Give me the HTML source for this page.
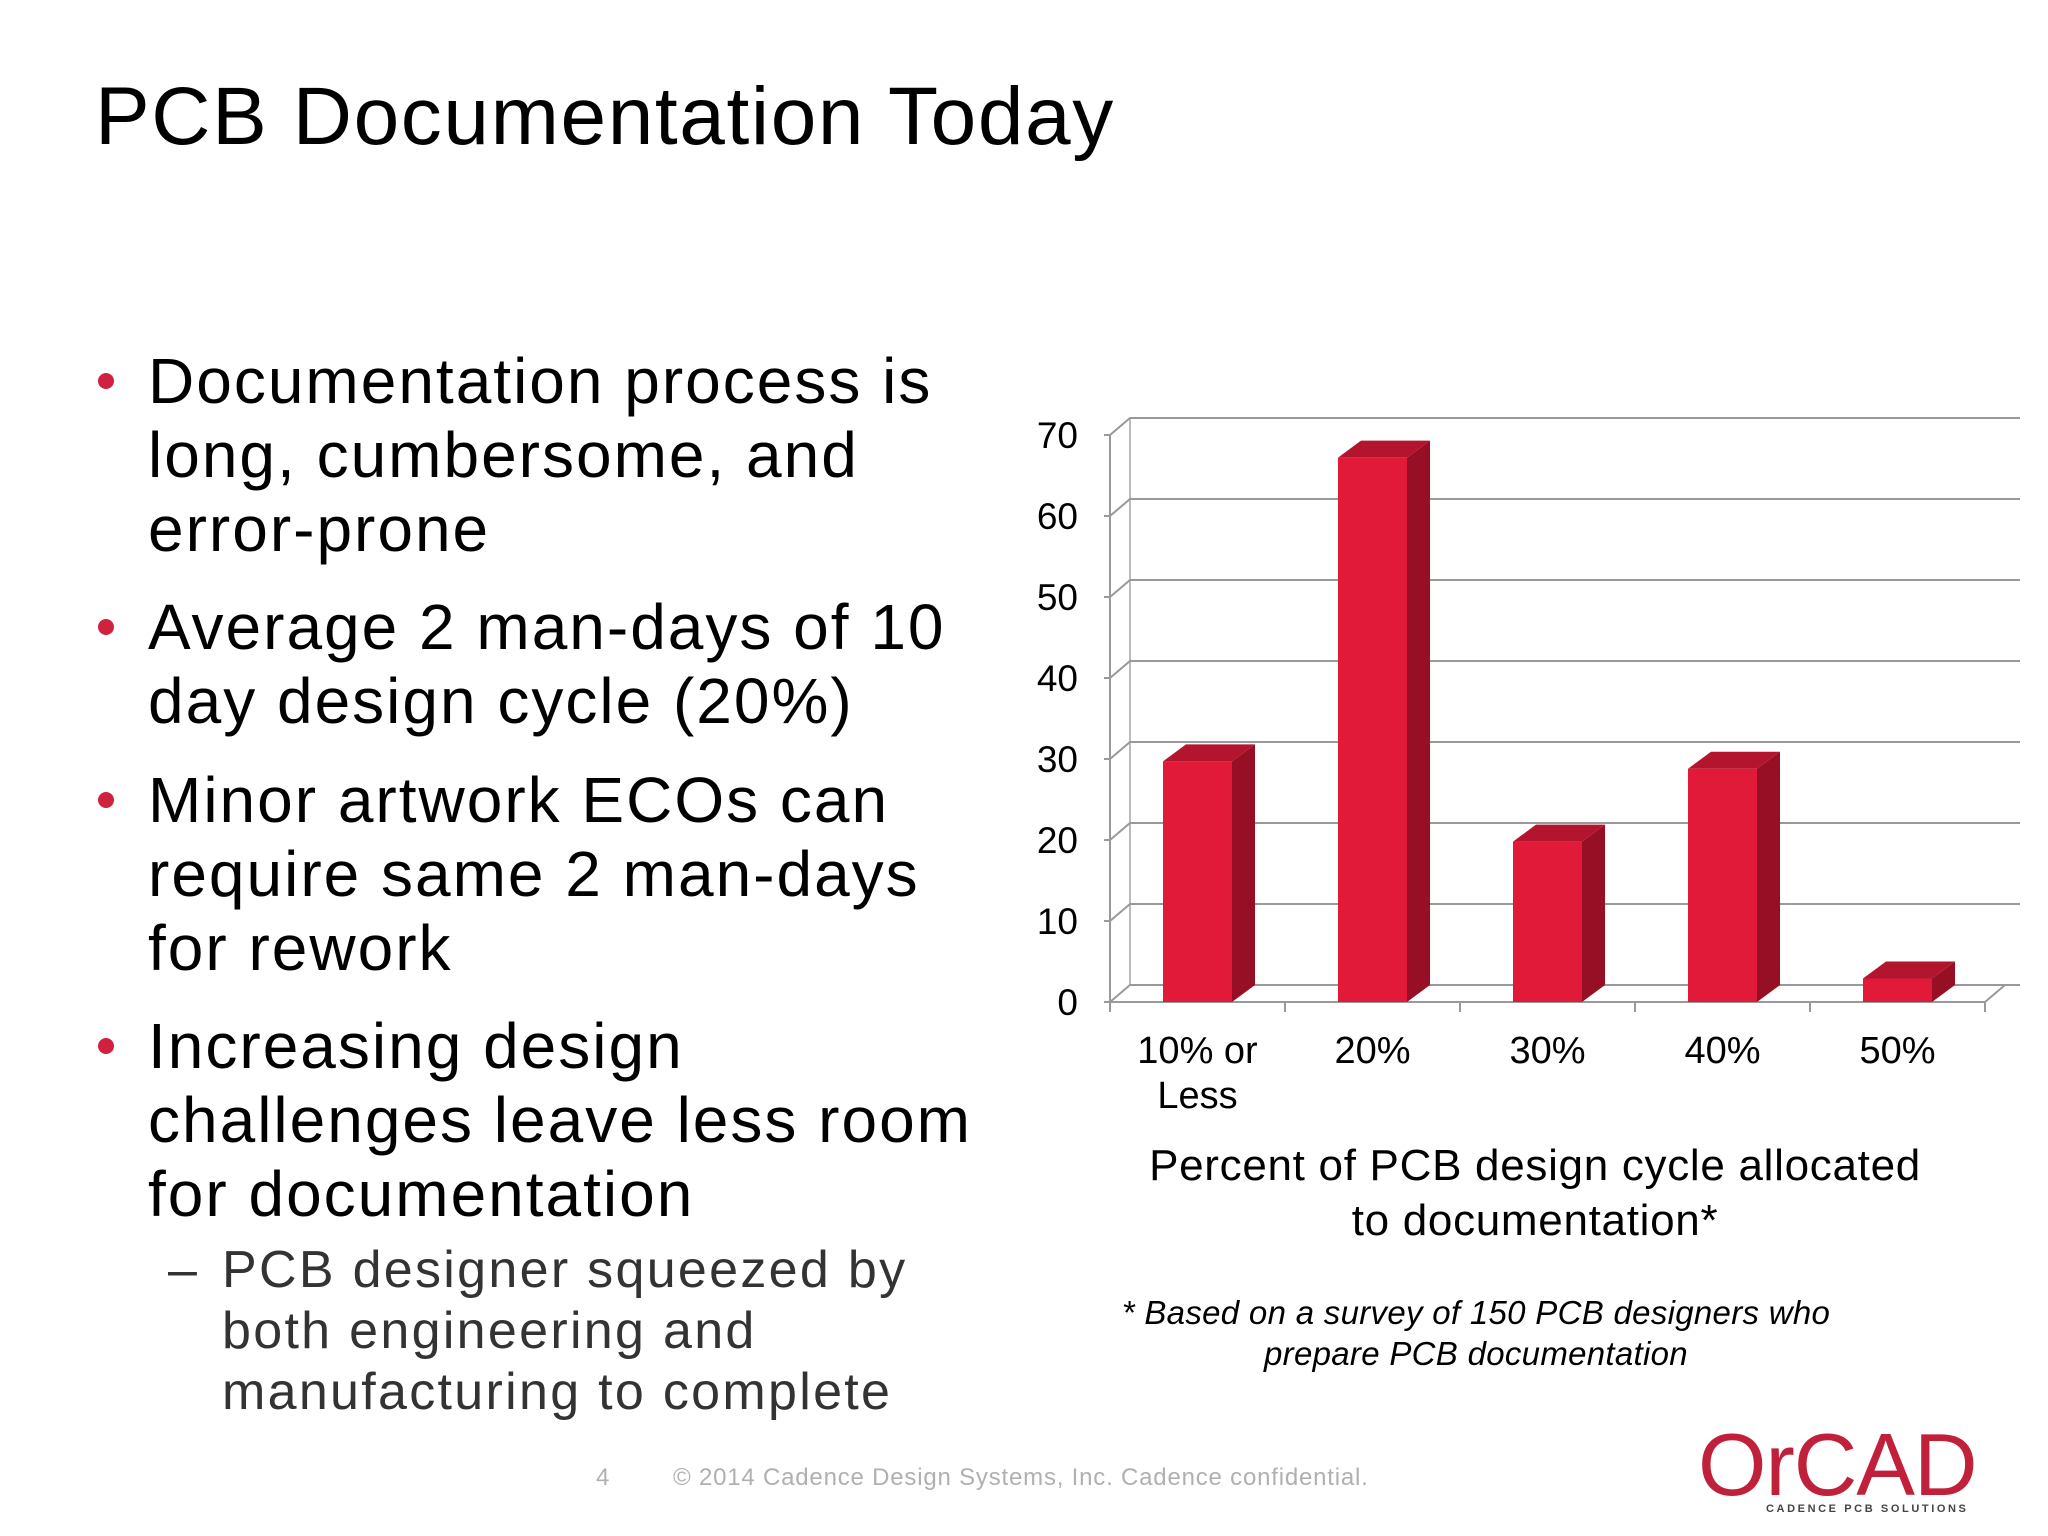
<!DOCTYPE html>
<html><head><meta charset="utf-8"><style>
body{margin:0;width:2048px;height:1536px;background:#fff;font-family:"Liberation Sans",sans-serif;position:relative;overflow:hidden}
.t{position:absolute;white-space:nowrap}
.b{font-size:64px;color:#000;line-height:74px;letter-spacing:2px}
.dot{position:absolute;width:16px;height:16px;border-radius:8px;background:#d0213f}
.s{font-size:52px;color:#333;line-height:61px;letter-spacing:2.3px}
</style></head><body>
<div class="t" style="left:95px;top:70px;font-size:82px;letter-spacing:1.6px">PCB Documentation Today</div>

<div class="dot" style="left:98px;top:373px"></div>
<div class="t b" style="left:148px;top:344px">Documentation process is<br>long, cumbersome, and<br>error-prone</div>
<div class="dot" style="left:98px;top:619px"></div>
<div class="t b" style="left:148px;top:590px">Average 2 man-days of 10<br>day design cycle (20%)</div>
<div class="dot" style="left:98px;top:792px"></div>
<div class="t b" style="left:148px;top:763px">Minor artwork ECOs can<br>require same 2 man-days<br>for rework</div>
<div class="dot" style="left:98px;top:1038px"></div>
<div class="t b" style="left:148px;top:1009px">Increasing design<br>challenges leave less room<br>for documentation</div>
<div class="t s" style="left:168px;top:1240px">–</div>
<div class="t s" style="left:222px;top:1240px">PCB designer squeezed by<br>both engineering and<br>manufacturing to complete</div>

<svg id="chart" width="2048" height="1536" style="position:absolute;left:0;top:0"></svg>

<div class="t" style="left:1135px;top:1138px;width:800px;text-align:center;font-size:44px;line-height:55px;letter-spacing:0.7px">Percent of PCB design cycle allocated<br>to documentation*</div>
<div class="t" style="left:1076px;top:1292px;width:800px;text-align:center;font-size:33px;line-height:41px;font-style:italic;letter-spacing:0.3px">* Based on a survey of 150 PCB designers who<br>prepare PCB documentation</div>

<div class="t" style="left:596px;top:1464px;font-size:24px;color:#b0b0b0">4</div>
<div class="t" style="left:673px;top:1464px;font-size:24px;color:#b0b0b0;letter-spacing:0.8px">© 2014 Cadence Design Systems, Inc. Cadence confidential.</div>
<div class="t" style="left:1698px;top:1414px;font-size:88px;color:#c0203a;letter-spacing:-1px">OrCAD</div>
<div class="t" style="left:1766px;top:1503px;font-size:11px;font-weight:bold;color:#444;letter-spacing:2.6px">CADENCE PCB SOLUTIONS</div>

<script>
const categories=["10% or|Less","20%","30%","40%","50%"];
const values=[29.7,67.2,19.8,28.8,2.9];
const yTicks=[0,10,20,30,40,50,60,70];
const svg=document.getElementById('chart');
const NS='http://www.w3.org/2000/svg';
const X0=1110,X1=1985,Y0=1002,Y70=435,DX=20,DY=-17;
const y=v=>Y0-(v/70)*(Y0-Y70);
const bw=(X1-X0)/categories.length;
const xc=i=>X0+bw*(i+0.5);
function mk(t,a){const e=document.createElementNS(NS,t);for(const k in a)e.setAttribute(k,a[k]);svg.appendChild(e);return e;}
let e=mk('line',{x1:X0+DX,y1:y(0)+DY,x2:X0+DX,y2:y(70)+DY,stroke:'#bbb','stroke-width':2});


yTicks.forEach(v=>{
 let g=mk('polyline',{points:`${X0-6},${y(v)} ${X0},${y(v)} ${X0+DX},${y(v)+DY} ${X1+DX+15},${y(v)+DY}`,fill:'none',stroke:'#999','stroke-width':2});
 
 
 let t=mk('text',{x:X0-32,y:y(v)+13,'text-anchor':'end','font-size':37,'font-family':'Liberation Sans, sans-serif'});
 t.textContent=v;
 
 
});
e=mk('line',{x1:X0,y1:y(0),x2:X0,y2:y(70),stroke:'#999','stroke-width':2});


e=mk('polyline',{points:`${X0},${y(0)} ${X1},${y(0)} ${X1+DX},${y(0)+DY}`,fill:'none',stroke:'#999','stroke-width':2});


for(let i=0;i<=categories.length;i++){
 e=mk('line',{x1:X0+bw*i,y1:y(0),x2:X0+bw*i,y2:y(0)+10,stroke:'#999','stroke-width':2});
 
 
}
const W=69,D=23,DD=-17;
values.forEach((v,i)=>{
 const l=xc(i)-W/2,r=l+W,top=y(v),b=y(0);
 let s=mk('polygon',{points:`${r},${top} ${r+D},${top+DD} ${r+D},${b+DD} ${r},${b}`,fill:'#960f24'});
 
 
 let tp=mk('polygon',{points:`${l},${top} ${l+D},${top+DD} ${r+D},${top+DD} ${r},${top}`,fill:'#b3152e'});
 
 
 let f=mk('rect',{x:l,y:top,width:W,height:b-top,fill:'#e11a3a'});
 
 
 categories[i].split('|').forEach((ln,k)=>{
  let t=mk('text',{x:xc(i),y:1063+k*45,'text-anchor':'middle','font-size':38,'font-family':'Liberation Sans, sans-serif'});
  t.textContent=ln;
  
  
 });
});
</script>
</body></html>
